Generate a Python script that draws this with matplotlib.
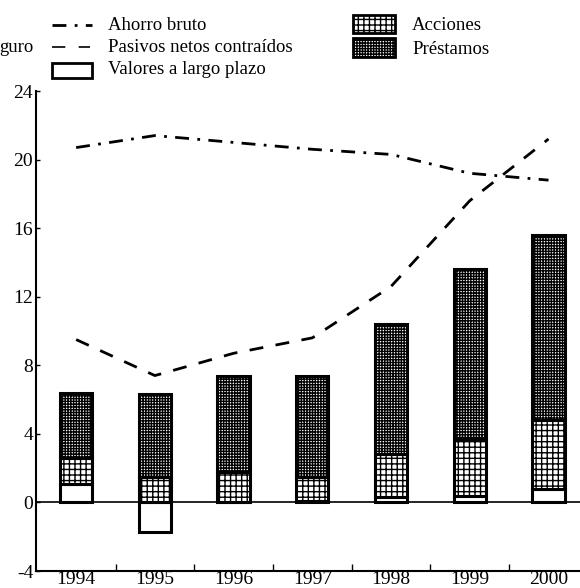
import numpy as np
import matplotlib
matplotlib.use("Agg")
import matplotlib.pyplot as plt
from matplotlib.patches import Rectangle
from matplotlib.lines import Line2D

plt.rcParams['font.family'] = ['Liberation Serif', 'DejaVu Serif']
plt.rcParams['hatch.linewidth'] = 1.0

# datos (% del PIB)
years = ['1994', '1995', '1996', '1997', '1998', '1999', '2000']
valores = [1.1, -1.7, 0.05, 0.1, 0.3, 0.4, 0.8]
acciones = [1.5, 1.5, 1.7, 1.4, 2.5, 3.3, 4.0]
prestamos = [3.8, 4.8, 5.65, 5.9, 7.6, 9.9, 10.8]
ahorro_bruto = [20.7, 21.4, 21.0, 20.6, 20.3, 19.2, 18.8]
pasivos_netos = [9.5, 7.4, 8.7, 9.6, 12.6, 17.6, 21.2]
yticks = [-4, 0, 4, 8, 12, 16, 20, 24]

W, H = 580, 588
fig = plt.figure(figsize=(W / 100, H / 100), dpi=100)
ax = fig.add_axes([36 / W, (H - 571) / H, (W - 36) / W, (571 - 91) / H])

x = np.arange(len(years))
val = np.array(valores)
acc_bottom = np.clip(val, 0, None)
pre_bottom = acc_bottom + np.array(acciones)
bw = 0.41
ax.bar(x, val, bw, color='white', edgecolor='black', linewidth=2.2, zorder=2)
ax.bar(x, acciones, bw, bottom=acc_bottom, color='white', edgecolor='black',
       hatch='+++', linewidth=2.2, zorder=2)
ax.bar(x, prestamos, bw, bottom=pre_bottom, color='white', edgecolor='black',
       hatch='++++++', linewidth=2.2, zorder=2)

ax.axhline(0, color='black', lw=1.2, zorder=1)
ax.plot(x, ahorro_bruto, color='black', lw=2, dashes=(5, 3, 1, 3), zorder=3)
ax.plot(x, pasivos_netos, color='black', lw=2, dashes=(5, 4.5), zorder=3)

ax.set_xlim(-0.51, 6.40)
ax.set_ylim(-4, 24)
ax.set_yticks(yticks)
ax.set_yticklabels([str(t) for t in yticks])
ax.set_xticks(x)
ax.set_xticklabels(years)
ax.set_xticks(x[:-1] + 0.5, minor=True)
ax.tick_params(axis='x', which='major', length=0, labelsize=14, pad=0)
ax.tick_params(axis='x', which='minor', direction='in', length=5, width=1)
ax.tick_params(axis='y', direction='in', length=3, width=1, labelsize=14, pad=2)
for s in ['top', 'right']:
    ax.spines[s].set_visible(False)
for s in ['left', 'bottom']:
    ax.spines[s].set_linewidth(1.5)

# leyenda hecha a mano (coordenadas de pixel de la figura)
def fx(px):
    return px / W

def fy(py):
    return 1 - py / H

fig.add_artist(Line2D([fx(52), fx(92)], [fy(25), fy(25)], color='black', lw=2,
                      dashes=(5, 3, 1, 3), transform=fig.transFigure))
fig.add_artist(Line2D([fx(52), fx(90)], [fy(47), fy(47)], color='black', lw=1.2,
                      dashes=(8, 8), transform=fig.transFigure))
fig.add_artist(Rectangle((fx(52), fy(78)), fx(40), 15 / H, facecolor='white',
                         edgecolor='black', lw=2, transform=fig.transFigure))
fig.add_artist(Rectangle((fx(353), fy(33)), fx(42), 18 / H, facecolor='white',
                         edgecolor='black', lw=2, hatch='+++', transform=fig.transFigure))
fig.add_artist(Rectangle((fx(353), fy(57)), fx(42), 19 / H, facecolor='white',
                         edgecolor='black', lw=2, hatch='++++++', transform=fig.transFigure))

fs = 13.5
fig.text(fx(108), fy(25), 'Ahorro bruto', fontsize=fs, va='center')
fig.text(fx(108), fy(47), 'Pasivos netos contraídos', fontsize=fs, va='center')
fig.text(fx(108), fy(70), 'Valores a largo plazo', fontsize=fs, va='center')
fig.text(fx(412), fy(25), 'Acciones', fontsize=fs, va='center')
fig.text(fx(412), fy(49), 'Préstamos', fontsize=fs, va='center')
fig.text(fx(33), fy(47), 'guro', fontsize=fs, va='center', ha='right')

fig.savefig('out.png', dpi=100)
